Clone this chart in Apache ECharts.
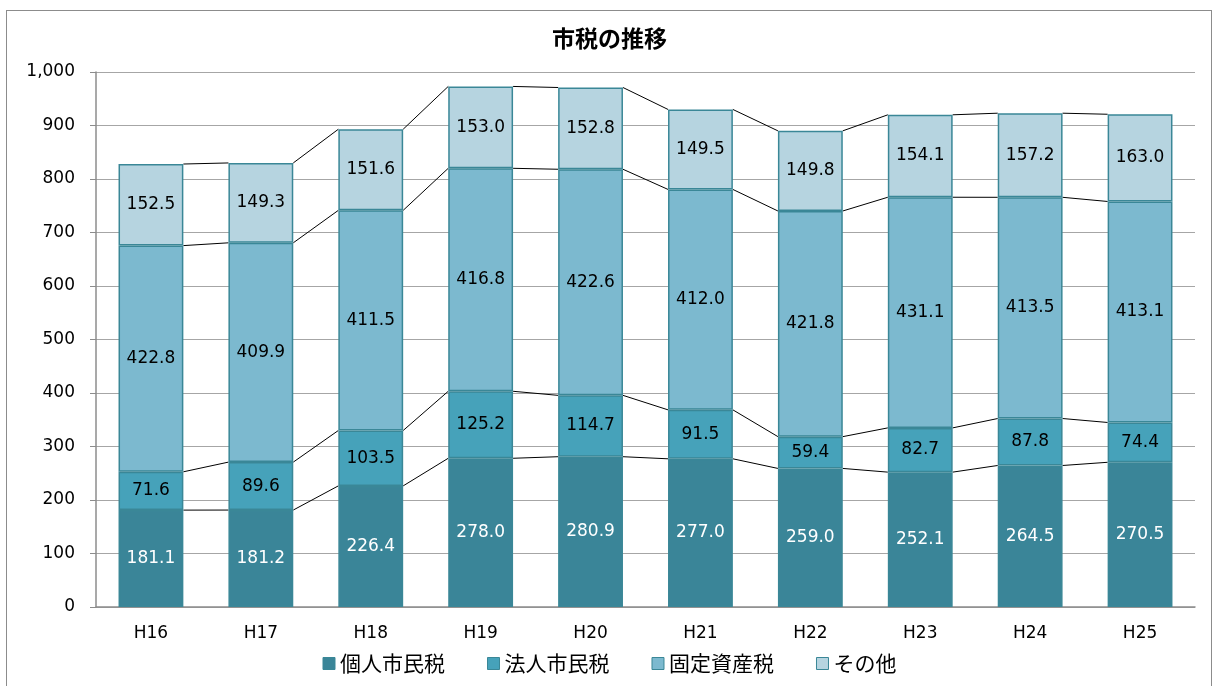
<!DOCTYPE html>
<html><head><meta charset="utf-8">
<script src="https://cdn.jsdelivr.net/npm/echarts@6/dist/echarts.min.js"></script>
<style>
html,body{margin:0;padding:0;background:#fff;}
#frame{position:absolute;left:6px;top:10px;width:1206px;height:680px;border:1px solid #8c8c8c;box-sizing:border-box;}
#main{position:absolute;left:0;top:0;width:1219px;height:686px;}
</style></head>
<body>
<div id="frame"></div>
<div id="main"></div>
<script>
const categories = ['H16','H17','H18','H19','H20','H21','H22','H23','H24','H25'];
const seriesNames = ['個人市民税','法人市民税','固定資産税','その他'];
const kojin = [181.1,181.2,226.4,278.0,280.9,277.0,259.0,252.1,264.5,270.5];
const hojin = [71.6,89.6,103.5,125.2,114.7,91.5,59.4,82.7,87.8,74.4];
const kotei = [422.8,409.9,411.5,416.8,422.6,412.0,421.8,431.1,413.5,413.1];
const sonota = [152.5,149.3,151.6,153.0,152.8,149.5,149.8,154.1,157.2,163.0];

const colors = ['#3a8598','#46a2ba','#7cb9cf','#b6d4e0'];
const labelColors = ['#ffffff','#000000','#000000','#000000'];
const allData = [kojin,hojin,kotei,sonota];
const FONT = '"DejaVu Sans", Verdana, sans-serif';
const CJK = '"Noto Sans CJK JP", sans-serif';
const barPct = 0.59;

const chart = echarts.init(document.getElementById('main'));
const cum = categories.map((_, i) => {
  let s = 0; return allData.map(d => (s += d[i]));
});

const barSeries = allData.map((d, k) => ({
  name: seriesNames[k], type: 'bar', stack: 'total', data: d,
  barWidth: (barPct*100)+'%',
  itemStyle: {color: colors[k], borderColor: '#3a8797', borderWidth: 1.5},
  label: {show: true, position: 'inside', color: labelColors[k], fontFamily: FONT, fontSize: 17,
    formatter: p => p.value.toFixed(1)},
  emphasis: {disabled: true}
}));

const connectorSeries = {
  type: 'custom', silent: true, z: 1,
  data: categories.slice(0, -1).map((_, i) => [i, 0]),
  renderItem: (params, api) => {
    const i = api.value(0);
    const half = api.size([1, 0])[0] * barPct / 2;
    const children = [];
    for (let k = 0; k < 4; k++) {
      const a = api.coord([i, cum[i][k]]);
      const b = api.coord([i + 1, cum[i + 1][k]]);
      children.push({type: 'line', shape: {x1: a[0] + half, y1: a[1], x2: b[0] - half, y2: b[1]},
        style: {stroke: '#000', lineWidth: 1}});
    }
    return {type: 'group', children};
  }
};

chart.setOption({
  animation: false,
  title: {text: '市税の推移', left: 'center', top: 22,
    textStyle: {fontFamily: CJK, fontSize: 23, fontWeight: 'bold', color: '#000'}},
  legend: {bottom: 7, left: 'center', itemWidth: 12, itemHeight: 12, itemGap: 42, icon: 'rect',
    data: seriesNames,
    itemStyle: {borderColor: '#3a8797', borderWidth: 1},
    textStyle: {fontFamily: CJK, fontSize: 21, color: '#000'}},
  grid: {left: 96, right: 24, top: 72, bottom: 79},
  xAxis: {type: 'category', data: categories,
    axisLine: {lineStyle: {color: '#8c8c8c', width: 1.5}},
    axisTick: {show: false},
    axisLabel: {fontFamily: FONT, fontSize: 17, color: '#000', margin: 18}},
  yAxis: {type: 'value', min: 0, max: 1000, interval: 100,
    axisLine: {show: true, lineStyle: {color: '#8c8c8c', width: 1.5}},
    axisTick: {show: true, length: 6, lineStyle: {color: '#8c8c8c'}},
    splitLine: {lineStyle: {color: '#a6a6a6', width: 1.2}},
    axisLabel: {fontFamily: FONT, fontSize: 17, color: '#000', margin: 21,
      formatter: v => v.toLocaleString('en-US')}},
  series: [...barSeries, connectorSeries]
});
</script>
</body></html>
